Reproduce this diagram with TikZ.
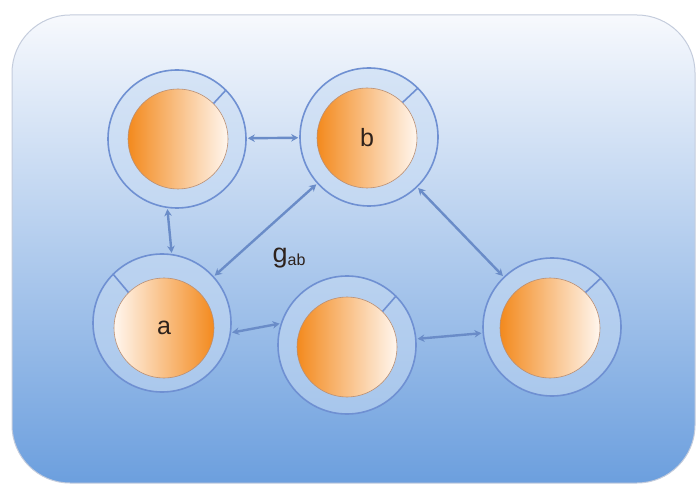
\documentclass[tikz,border=0pt]{standalone}
\usepackage{fontspec}
\setmainfont{Liberation Sans}
\usetikzlibrary{arrows.meta}
\definecolor{bgtop}{HTML}{F7F9FD}
\definecolor{bgbot}{HTML}{6C9FDE}
\definecolor{bgline}{HTML}{C4CCDC}
\definecolor{ringfill}{HTML}{C8DCF4}
\definecolor{ringline}{HTML}{6F90D2}
\definecolor{orng}{HTML}{F38A1E}
\definecolor{ormid}{HTML}{F5B07A}
\definecolor{orwhite}{HTML}{FFF6EE}
\definecolor{orline}{HTML}{B98F74}
\definecolor{edgec}{HTML}{6A8CC8}
\definecolor{txt}{HTML}{2E221C}
\begin{document}
\begin{tikzpicture}[x=1pt,y=1pt,
  ring/.style={circle, minimum size=138pt, inner sep=0pt, draw=ringline, line width=1.6pt, fill=ringfill, fill opacity=0.55, draw opacity=1},
  coreR/.style={circle, minimum size=100pt, inner sep=0pt, draw=orline, line width=0.6pt, left color=orng, middle color=ormid, right color=orwhite, text=txt, font=\fontsize{25}{28}\selectfont},
  coreL/.style={coreR, left color=orwhite, middle color=ormid, right color=orng},
  tickline/.style={draw=ringline, line width=1.6pt},
  link/.style={draw=edgec, line width=2.4pt, {Stealth[length=7pt,width=7.5pt]}-{Stealth[length=7pt,width=7.5pt]}, shorten <=1pt, shorten >=1pt}
]
\useasboundingbox (0,0) rectangle (700,490);
\shade[top color=bgtop, bottom color=bgbot, draw=bgline, line width=1pt, rounded corners=58pt] (12,7) rectangle (695,475);

% outer rings
\node[ring] (tl) at (177,351) {};
\node[ring] (b)  at (369,353) {};
\node[ring] (a)  at (162,167) {};
\node[ring] (bm) at (347,145) {};
\node[ring] (br) at (552,163) {};

% inner cores
\node[coreR] (tli) at (178,351) {};
\node[coreR] (bi)  at (367,352) {b};
\node[coreL] (ai)  at (164,162) {a};
\node[coreR] (bmi) at (347,143) {};
\node[coreR] (bri) at (550,162) {};

% ticks
\draw[tickline] (tli.45) -- (tl.45);
\draw[tickline] (bi.45) -- (b.45);
\draw[tickline] (ai.135) -- (a.135);
\draw[tickline] (bmi.45) -- (bm.45);
\draw[tickline] (bri.45) -- (br.45);

% links
\draw[link] (tl) -- (b);
\draw[link] (tl.262) -- (a.82);
\draw[link] (b) -- (a);
\draw[link] (b) -- (br);
\draw[link] (a.-8) -- (bm.162);
\draw[link] (bm) -- (br);

\node[text=txt, font=\fontsize{27}{30}\selectfont, inner sep=0pt] (gab) at (289,232) {g\raisebox{-3pt}{\fontsize{16}{18}\selectfont ab}};
\end{tikzpicture}
\end{document}
